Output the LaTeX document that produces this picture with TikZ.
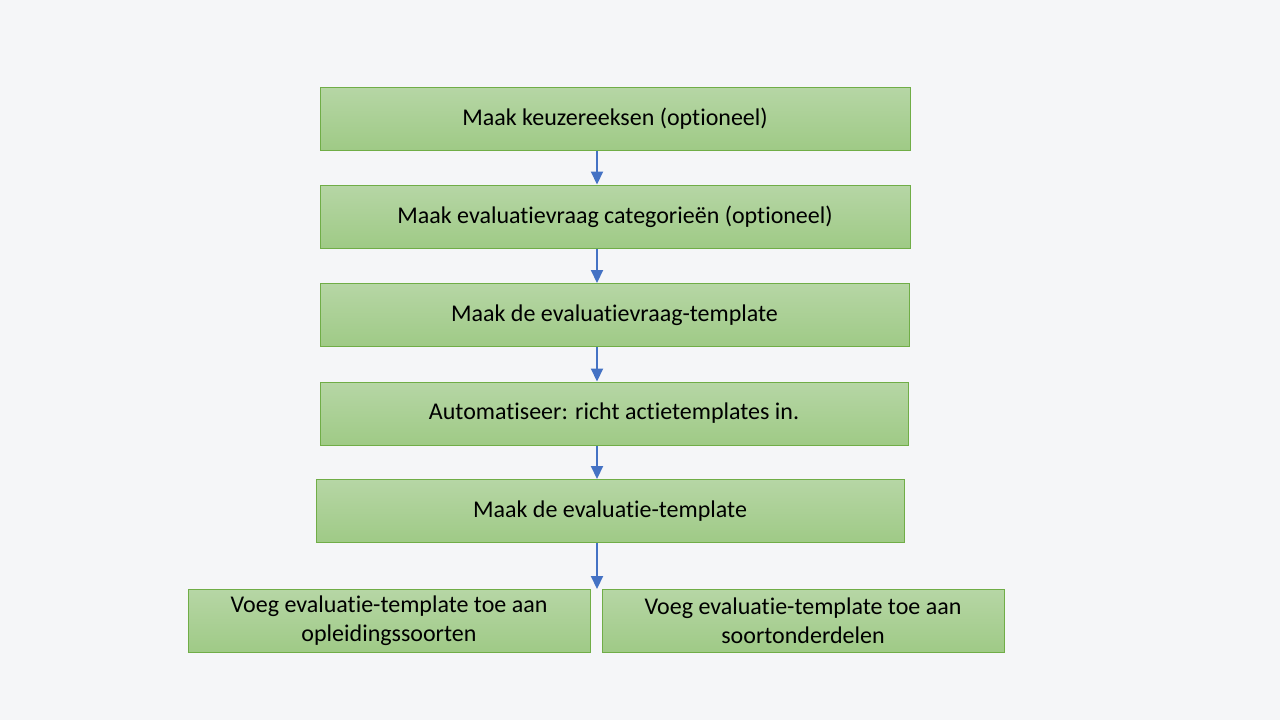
\documentclass[tikz,border=0pt]{standalone}
\usepackage{fontspec}
\setmainfont[Ligatures=NoCommon]{Carlito}
\usetikzlibrary{arrows.meta}
\definecolor{FlowBg}{HTML}{F5F6F8}
\definecolor{FlowTop}{HTML}{B6D6A5}
\definecolor{FlowBot}{HTML}{9FCA86}
\definecolor{FlowLine}{HTML}{70AD47}
\definecolor{FlowArrow}{HTML}{4472C4}
\begin{document}
\begin{tikzpicture}[x=0.5pt,y=-0.5pt,
  stepbox/.style={draw=FlowLine,line width=.5pt,top color=FlowTop,bottom color=FlowBot,
    inner sep=0pt,align=center,minimum height=31.5pt,font=\fontsize{12}{14.5}\selectfont},
  flow/.style={FlowArrow,line width=1pt,-{Triangle[width=6pt,length=6.5pt]}}]
\path[use as bounding box] (0,0) rectangle (1280,720);
\fill[FlowBg] (0,0) rectangle (1280,720);
% processing steps
\node[stepbox,minimum width=295pt] (keuze) at (615,118.5) {Maak keuzereeksen (optioneel)};
\node[stepbox,minimum width=295pt] (categorie) at (615,216.5) {Maak evaluatievraag categorieën (optioneel)};
\node[stepbox,minimum width=294.5pt] (vraag) at (614.5,315) {Maak de evaluatievraag-template};
\node[stepbox,minimum width=294pt] (actie) at (614,413.5) {Automatiseer: richt actietemplates in.};
\node[stepbox,minimum width=294pt] (evaluatie) at (610,511) {Maak de evaluatie-template};
\node[stepbox,minimum width=201pt] (opleiding) at (389,621) {Voeg evaluatie-template toe aan\\opleidingssoorten};
\node[stepbox,minimum width=201pt] (onderdeel) at (803,621) {Voeg evaluatie-template toe aan\\soortonderdelen};
% connectors
\coordinate (ax) at (597,0);
\coordinate (eind) at (597,589);
\draw[flow] (keuze.south -| ax) -- (categorie.north -| ax);
\draw[flow] (categorie.south -| ax) -- (vraag.north -| ax);
\draw[flow] (vraag.south -| ax) -- (actie.north -| ax);
\draw[flow] (actie.south -| ax) -- (evaluatie.north -| ax);
\draw[flow] (evaluatie.south -| ax) -- (eind);
\end{tikzpicture}
\end{document}
